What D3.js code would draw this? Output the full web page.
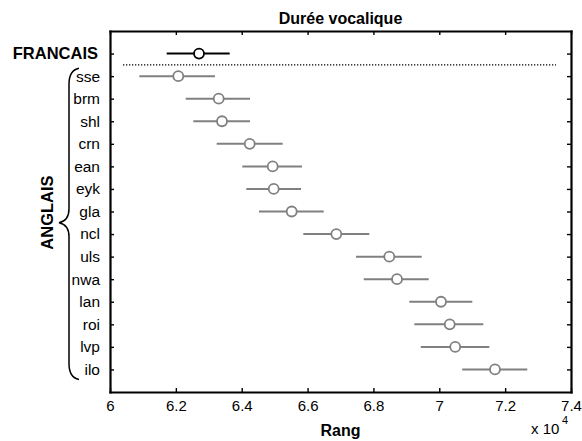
<!DOCTYPE html>
<html><head><meta charset="utf-8">
<script src="https://cdn.jsdelivr.net/npm/d3@7"></script>
<style>body{margin:0;background:#fff}svg{display:block;font-family:"Liberation Sans",Arial,sans-serif}</style>
</head><body><svg id="c" width="582" height="441"></svg>
<script>
const categories = ["FRANCAIS","sse","brm","shl","crn","ean","eyk","gla","ncl","uls","nwa","lan","roi","lvp","ilo"];
const means = [62703,62074,63301,63401,64243,64941,64972,65518,66873,68482,68716,70052,70317,70484,71692];
const lows  = [61722,60890,62299,62530,63240,64018,64139,64525,65871,67471,67705,69090,69242,69439,70696];
const highs = [63635,63189,64252,64252,65245,65831,65801,66490,67875,69466,69679,71003,71337,71519,72673];
const xTicks = [60000,62000,64000,66000,68000,70000,72000,74000];
const xTickLabels = ["6","6.2","6.4","6.6","6.8","7","7.2","7.4"];

const svg = d3.select("#c");
const x = d3.scaleLinear().domain([60000,74000]).range([110,571]);
const y = d3.scaleLinear().domain([0,16]).range([31,392]);
const [xl,xr] = x.range(), [yt,yb] = y.range();
const rows = categories.map((c,i)=>({c,i,m:means[i],lo:lows[i],hi:highs[i]}));
const rowIdx = d3.range(1,16);

// axes with domain lines (frame) and inward ticks
const gB = svg.append("g").attr("transform",`translate(0,${yb})`)
  .call(d3.axisBottom(x).tickValues(xTicks).tickFormat((d,i)=>xTickLabels[i]).tickSizeInner(-4).tickSizeOuter(0).tickPadding(8));
const gT = svg.append("g").attr("transform",`translate(0,${yt})`)
  .call(d3.axisTop(x).tickValues(xTicks).tickFormat("").tickSizeInner(-4).tickSizeOuter(0));
const gL = svg.append("g").attr("transform",`translate(${xl},0)`)
  .call(d3.axisLeft(y).tickValues(rowIdx).tickFormat("").tickSizeInner(-4).tickSizeOuter(0));
const gR = svg.append("g").attr("transform",`translate(${xr},0)`)
  .call(d3.axisRight(y).tickValues(rowIdx).tickFormat("").tickSizeInner(-4).tickSizeOuter(0));
[gB,gT,gL,gR].forEach(g=>{
  g.attr("color","black");
  g.select(".domain").attr("stroke","black").attr("stroke-width",2.2).attr("stroke-linecap","square");
  g.selectAll(".tick line").attr("stroke","black").attr("stroke-width",1.4);
});
gB.selectAll(".tick text").attr("font-size",15).attr("font-family","Liberation Sans, Arial, sans-serif").attr("fill","black");

// category labels
svg.selectAll("text.cat").data(rows).join("text").attr("class","cat")
  .attr("x",d=>d.i===0?98:100).attr("y",d=>y(d.i+1)).attr("dy","0.35em").attr("text-anchor","end")
  .attr("font-size",d=>d.i===0?16.5:15.5).attr("font-weight",d=>d.i===0?"bold":"normal").text(d=>d.c);

// dotted separator
svg.append("line").attr("x1",123).attr("x2",556).attr("y1",y(1.5)).attr("y2",y(1.5))
  .attr("stroke","#000").attr("stroke-width",1.3).attr("stroke-dasharray","1.3,1.7");

// error bars
const col = d=>d.i===0?"#000":"#808080";
svg.selectAll("line.err").data(rows).join("line").attr("class","err")
  .attr("x1",d=>x(d.lo)).attr("x2",d=>x(d.hi)).attr("y1",d=>y(d.i+1)).attr("y2",d=>y(d.i+1))
  .attr("stroke",col).attr("stroke-width",2);
svg.selectAll("circle.pt").data(rows).join("circle").attr("class","pt")
  .attr("cx",d=>x(d.m)).attr("cy",d=>y(d.i+1)).attr("r",5)
  .attr("fill","#fff").attr("stroke",col).attr("stroke-width",1.8);

// brace
const y0=y(1.65), y1=y(15.45), ym=(y(2)+y(15))/2;
const bxp=69, tip=59;
const p = d3.path();
p.moveTo(79,y0);
p.quadraticCurveTo(bxp,y0+2,bxp,y0+16);
p.lineTo(bxp,ym-14);
p.quadraticCurveTo(bxp,ym-2,tip,ym);
p.quadraticCurveTo(bxp,ym+2,bxp,ym+14);
p.lineTo(bxp,y1-16);
p.quadraticCurveTo(bxp,y1-2,79,y1);
svg.append("path").attr("d",p.toString()).attr("fill","none").attr("stroke","#000").attr("stroke-width",1.5);

// ANGLAIS
svg.append("text").attr("transform",`translate(53,212.5) rotate(-90)`).attr("text-anchor","middle")
  .attr("font-size",16.5).attr("font-weight","bold").text("ANGLAIS");

// title
svg.append("text").attr("x",(xl+xr)/2).attr("y",24).attr("text-anchor","middle")
  .attr("font-size",16).attr("font-weight","bold").text("Durée vocalique");
// x label
svg.append("text").attr("x",(xl+xr)/2).attr("y",436).attr("text-anchor","middle")
  .attr("font-size",16).attr("font-weight","bold").text("Rang");
// exponent
svg.append("text").attr("x",531).attr("y",434).attr("font-size",15).text("x 10");
svg.append("text").attr("x",562).attr("y",424).attr("font-size",11).text("4");
</script></body></html>
